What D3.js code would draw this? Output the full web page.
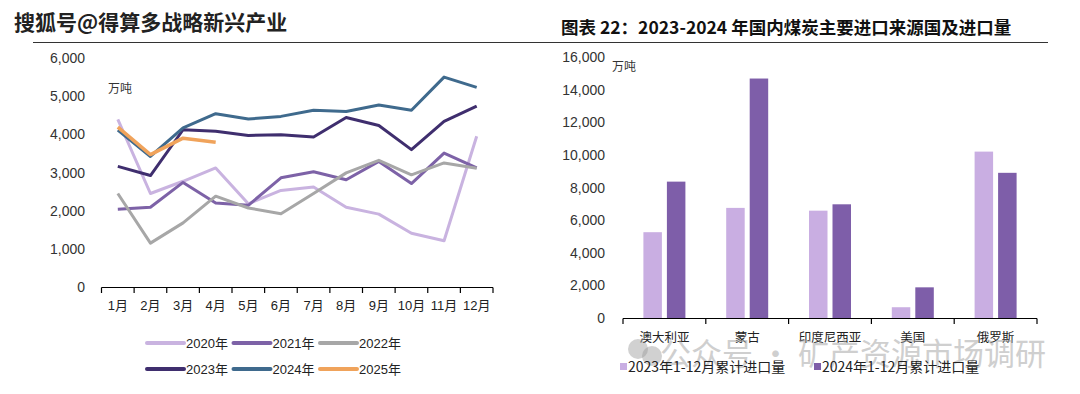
<!DOCTYPE html>
<html>
<head>
<meta charset="utf-8">
<script src="https://cdn.jsdelivr.net/npm/d3@7"></script>
<style>
  body { margin: 0; background: #fff; }
  svg { display: block; font-family: "Liberation Sans", "Noto Sans CJK SC", sans-serif; }
</style>
</head>
<body>
<script>
// monthly import lines (万吨)
var months = ["1月","2月","3月","4月","5月","6月","7月","8月","9月","10月","11月","12月"];
var y2020 = [4390, 2450, 2770, 3120, 2180, 2530, 2620, 2090, 1910, 1410, 1210, 3950];
var y2021 = [2040, 2090, 2740, 2200, 2140, 2860, 3020, 2810, 3290, 2710, 3510, 3120];
var y2022 = [2450, 1150, 1680, 2380, 2070, 1920, 2450, 2990, 3320, 2940, 3250, 3110];
var y2023 = [3160, 2920, 4120, 4080, 3970, 3990, 3930, 4440, 4230, 3600, 4340, 4740];
var y2024 = [4110, 3420, 4170, 4540, 4400, 4470, 4630, 4600, 4770, 4630, 5500, 5230];
var y2025 = [4190, 3470, 3900, 3790];
var leftTicks = [0, 1000, 2000, 3000, 4000, 5000, 6000];

// import sources bars (万吨)
var countries = ["澳大利亚","蒙古","印度尼西亚","美国","俄罗斯"];
var imp2023 = [5260, 6750, 6580, 660, 10200];
var imp2024 = [8360, 14680, 6970, 1880, 8900];
var rightTicks = [0, 2000, 4000, 6000, 8000, 10000, 12000, 14000, 16000];

var W = 1080, H = 394;
var svg = d3.select("body").append("svg").attr("width", W).attr("height", H);

// header
svg.append("text")
    .attr("x", 14).attr("y", 30)
    .style("font-family", "'Noto Sans CJK SC'")
    .style("font-size", "21px")
    .style("font-weight", "bold")
    .attr("fill", "#222")
    .text("搜狐号@得算多战略新兴产业");
svg.append("text")
    .attr("x", 561).attr("y", 34)
    .style("font-family", "'Noto Sans CJK SC'")
    .style("font-size", "17.5px")
    .style("font-weight", "bold")
    .attr("fill", "#111")
    .text("图表 22：2023-2024 年国内煤炭主要进口来源国及进口量");
svg.append("line")
    .attr("x1", 33).attr("x2", 1048).attr("y1", 42.5).attr("y2", 42.5)
    .attr("stroke", "#333").attr("stroke-width", 1);

// ---------- left line chart ----------
var x = d3.scaleBand().domain(months).range([101.5, 493]);
var y = d3.scaleLinear().domain([0, 6000]).range([287, 58]);
var fmt = d3.format(",");

svg.append("line").attr("x1", 101.5).attr("x2", 493).attr("y1", 287.5).attr("y2", 287.5)
    .attr("stroke", "#000").attr("stroke-width", 1.2);
d3.range(13).forEach(function(i) {
  var xx = 101.5 + i * x.step();
  svg.append("line").attr("x1", xx).attr("x2", xx).attr("y1", 287.5).attr("y2", 293)
      .attr("stroke", "#000").attr("stroke-width", 1.2);
});
svg.selectAll(".mlab").data(months).enter().append("text")
    .attr("x", function(d) { return x(d) + x.bandwidth() / 2; })
    .attr("y", 310)
    .attr("text-anchor", "middle")
    .style("font-size", "13px")
    .attr("fill", "#222")
    .text(function(d) { return d; });

svg.selectAll(".ylab").data(leftTicks).enter().append("text")
    .attr("x", 85).attr("y", function(d) { return y(d) + 5; })
    .attr("text-anchor", "end")
    .style("font-size", "14px")
    .attr("fill", "#333")
    .text(function(d) { return fmt(d); });
svg.append("text").attr("x", 108).attr("y", 93)
    .style("font-family", "'Noto Sans CJK SC'").style("font-size", "12px")
    .attr("fill", "#333").text("万吨");

var line = d3.line()
    .x(function(d, i) { return x(months[i]) + x.bandwidth() / 2; })
    .y(function(d) { return y(d); });

var series = [
  { name: "2020年", values: y2020, color: "#c9b3e0" },
  { name: "2021年", values: y2021, color: "#7d62a7" },
  { name: "2022年", values: y2022, color: "#a7a7a7" },
  { name: "2023年", values: y2023, color: "#3f2e6e" },
  { name: "2024年", values: y2024, color: "#3f6a8d" },
  { name: "2025年", values: y2025, color: "#f0a35b" }
];
series.forEach(function(s) {
  svg.append("path").datum(s.values)
      .attr("fill", "none")
      .attr("stroke", s.color)
      .attr("stroke-width", s.name === "2025年" ? 3.5 : 3)
      .attr("stroke-linejoin", "round")
      .attr("d", line);
});

// legend
series.forEach(function(s, i) {
  var col = i % 3, row = Math.floor(i / 3);
  var lx = 147 + col * 86.5, ly = 343 + row * 26;
  svg.append("line").attr("x1", lx).attr("x2", lx + 37).attr("y1", ly).attr("y2", ly)
      .attr("stroke", s.color).attr("stroke-width", 4).attr("stroke-linecap", "round");
  svg.append("text").attr("x", lx + 39).attr("y", ly + 5)
      .style("font-size", "13px").attr("fill", "#222").text(s.name);
});

// ---------- right bar chart ----------
var xb = d3.scaleBand().domain(countries).range([623, 1037]);
var yb = d3.scaleLinear().domain([0, 16000]).range([318, 57]);

svg.append("line").attr("x1", 623).attr("x2", 1037).attr("y1", 318.5).attr("y2", 318.5)
    .attr("stroke", "#000").attr("stroke-width", 1.2);
d3.range(6).forEach(function(i) {
  var xx = 623 + i * xb.step();
  svg.append("line").attr("x1", xx).attr("x2", xx).attr("y1", 318.5).attr("y2", 324)
      .attr("stroke", "#000").attr("stroke-width", 1.2);
});
svg.selectAll(".rylab").data(rightTicks).enter().append("text")
    .attr("x", 605).attr("y", function(d) { return yb(d) + 5; })
    .attr("text-anchor", "end")
    .style("font-size", "14px")
    .attr("fill", "#333")
    .text(function(d) { return fmt(d); });
svg.append("text").attr("x", 612).attr("y", 71)
    .style("font-family", "'Noto Sans CJK SC'").style("font-size", "12px")
    .attr("fill", "#333").text("万吨");

var bw = 18.5, gap = 5;
var barSeries = [
  { name: "2023年1-12月累计进口量", values: imp2023, color: "#c9aee2", off: -gap / 2 - bw },
  { name: "2024年1-12月累计进口量", values: imp2024, color: "#7e5ea9", off: gap / 2 }
];
barSeries.forEach(function(s) {
  svg.selectAll(null).data(s.values).enter().append("rect")
      .attr("x", function(d, i) { return xb(countries[i]) + xb.bandwidth() / 2 + s.off; })
      .attr("y", function(d) { return yb(d); })
      .attr("width", bw)
      .attr("height", function(d) { return yb(0) - yb(d); })
      .attr("fill", s.color);
});
svg.selectAll(".clab").data(countries).enter().append("text")
    .attr("x", function(d) { return xb(d) + xb.bandwidth() / 2; })
    .attr("y", 342)
    .attr("text-anchor", "middle")
    .style("font-family", "'Noto Sans CJK SC'")
    .style("font-size", "12.5px")
    .attr("fill", "#222")
    .text(function(d) { return d; });

// watermark
svg.append("text").attr("x", 660).attr("y", 365)
    .style("font-family", "'Noto Sans CJK SC'")
    .style("font-size", "31px")
    .attr("fill", "#a0a0a0").attr("opacity", 0.5)
    .text("公众号 · 矿产资源市场调研");
svg.append("circle").attr("cx", 638).attr("cy", 349).attr("r", 10)
    .attr("fill", "#9a9a9a").attr("opacity", 0.45);
svg.append("circle").attr("cx", 652).attr("cy", 356).attr("r", 10)
    .attr("fill", "#9a9a9a").attr("opacity", 0.45);

// bar legend
barSeries.forEach(function(s, i) {
  var lx = 620 + i * 194;
  svg.append("rect").attr("x", lx).attr("y", 363).attr("width", 7).attr("height", 7)
      .attr("fill", s.color);
  svg.append("text").attr("x", lx + 8).attr("y", 372)
      .style("font-family", "'Noto Sans CJK SC'")
      .style("font-size", "14px").attr("fill", "#222").text(s.name);
});
</script>
</body>
</html>
